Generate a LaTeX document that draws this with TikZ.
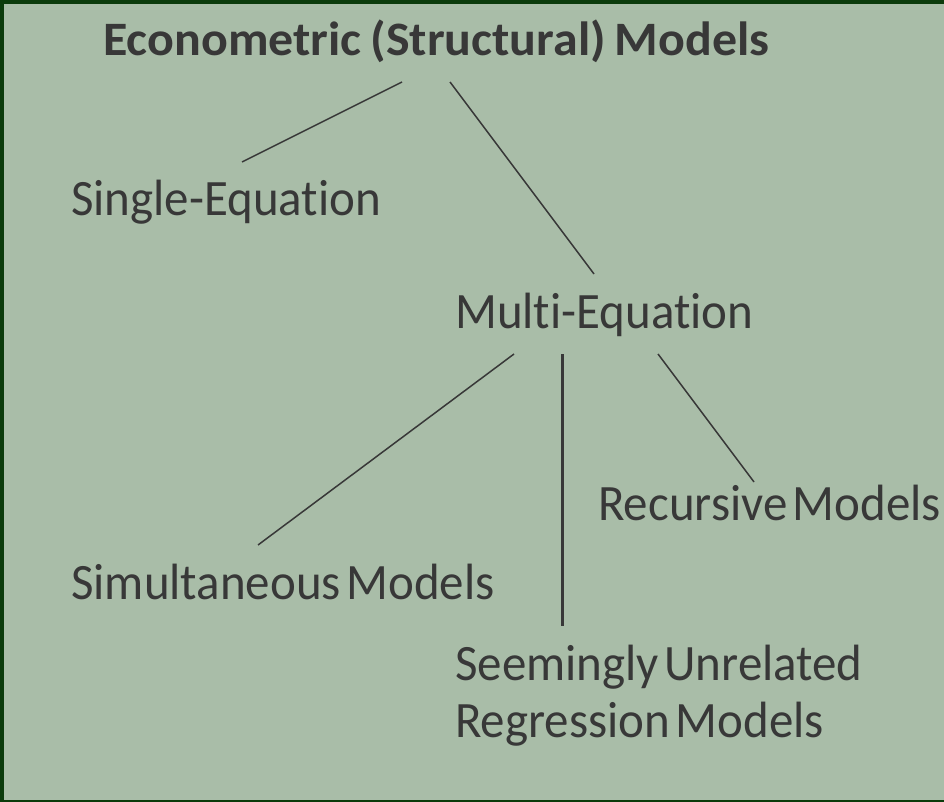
\documentclass[tikz,border=0pt]{standalone}
\usepackage{fontspec}
\setmainfont{Carlito}[Ligatures=NoCommon]
\newfontfamily\bodyfont{Carlito}[Ligatures=NoCommon,FakeStretch=0.96,WordSpace=0.5]
\newfontfamily\titlefont{Carlito}[Ligatures=NoCommon,FakeStretch=1.04,WordSpace=0.8]
\definecolor{bg}{HTML}{A9BDA8}
\definecolor{frame}{HTML}{0B3B0B}
\definecolor{ink}{HTML}{383838}
\begin{document}
\begin{tikzpicture}[x=1pt,y=-1pt,
  lbl/.style={anchor=base west,inner sep=0pt,text=ink,font=\bodyfont\fontsize{51}{57}\selectfont},
  ttl/.style={anchor=base west,inner sep=0pt,text=ink,font=\titlefont\fontsize{48}{54}\selectfont\bfseries},
  conn/.style={draw=ink,line width=1.5pt},
  vconn/.style={draw=ink,line width=3pt}]
\useasboundingbox (0,0) rectangle (944,802);
\fill[bg] (0,0) rectangle (944,802);
\fill[frame] (0,0) rectangle (944,4);
\fill[frame] (0,0) rectangle (4,802);
\fill[frame] (0,800) rectangle (944,802);
\node[ttl] (title) at (103,56) {Econometric (Structural) Models};
\node[lbl] (single) at (71,216) {Single-Equation};
\node[lbl] (multi) at (455,328) {Multi-Equation};
\node[lbl] (recur) at (598,520) {Recursive Models};
\node[lbl] (simul) at (71,599) {Simultaneous Models};
\node[lbl] (sur) at (455,680) {Seemingly Unrelated};
\node[lbl] (reg) at (455,737) {Regression Models};
\coordinate (t1) at (402,82);
\coordinate (s1) at (242,162);
\coordinate (t2) at (450,82);
\coordinate (m0) at (594,274);
\coordinate (m1) at (514,354);
\coordinate (sm) at (258,545);
\coordinate (m2) at (562,354);
\coordinate (su) at (562,626);
\coordinate (m3) at (658,354);
\coordinate (rc) at (754,482);
\draw[conn] (t1) -- (s1);
\draw[conn] (t2) -- (m0);
\draw[conn] (m1) -- (sm);
\draw[vconn] (m2) -- (su);
\draw[conn] (m3) -- (rc);
\end{tikzpicture}
\end{document}
